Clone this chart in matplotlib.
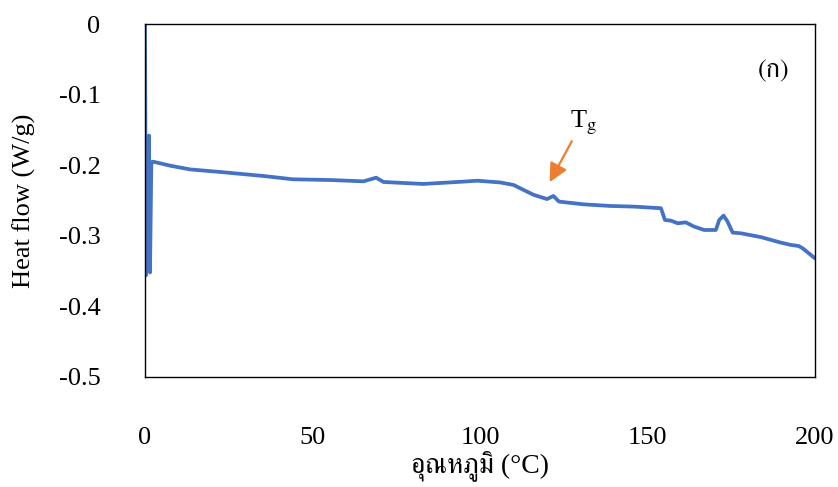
import numpy as np
import matplotlib
matplotlib.use("Agg")
import matplotlib.pyplot as plt
from matplotlib import font_manager, ft2font

# ----------------------------
# DSC trace (temperature in °C, heat flow in W/g)
# ----------------------------
temp = [0.0, 0.3, 0.8, 1.2, 1.5, 1.9, 2.4, 7.5, 13.5, 22.4, 35.3, 44.2, 55.3,
        65.2, 69.0, 71.2, 83.1, 95.0, 99.2, 106.1, 110.0, 116.0, 120.0, 121.9,
        123.6, 131.0, 139.0, 146.0, 154.0, 155.2, 157.0, 159.0, 161.4, 163.9,
        166.9, 170.4, 171.4, 172.7, 173.9, 175.4, 177.9, 183.9, 189.8, 192.8,
        195.1, 196.3, 200.0]
heat_flow = [0.0, -0.356, -0.20, -0.158, -0.352, -0.196, -0.195, -0.2007,
             -0.206, -0.2096, -0.2153, -0.220, -0.221, -0.2229, -0.2177,
             -0.2238, -0.2266, -0.2233, -0.222, -0.2245, -0.228, -0.242,
             -0.248, -0.2436, -0.2516, -0.2555, -0.2578, -0.2587, -0.261,
             -0.2776, -0.2786, -0.2823, -0.281, -0.287, -0.2918, -0.2918,
             -0.2776, -0.2715, -0.280, -0.2955, -0.2965, -0.302, -0.3097,
             -0.313, -0.3145, -0.3177, -0.332]

x_ticks = [0, 50, 100, 150, 200]
y_ticks = [0, -0.1, -0.2, -0.3, -0.4, -0.5]
y_tick_labels = ["0", "-0.1", "-0.2", "-0.3", "-0.4", "-0.5"]

tg_tail = (127.4, -0.166)
tg_tip = (120.8, -0.224)


def thai_family():
    # pick an installed font that has Thai glyphs, serif first
    found = []
    for f in font_manager.fontManager.ttflist:
        try:
            cmap = ft2font.FT2Font(f.fname).get_charmap()
        except Exception:
            continue
        if 0x0E01 in cmap:
            found.append(f.name)
    if not found:
        return None
    found.sort(key=lambda n: (0 if "Serif" in n else 1, n))
    return found[0]


thai = thai_family()
serif = ["Liberation Serif"] + ([thai] if thai else []) + ["DejaVu Sans"]
sans_thai = ([thai] if thai else []) + ["DejaVu Sans"]

plt.rcParams.update({
    "font.family": serif,
    "font.size": 19,
    "mathtext.fontset": "stix",
    "axes.linewidth": 1.0,
})

fig = plt.figure(figsize=(8.38, 4.87), dpi=100)
ax = fig.add_axes([0.173, 0.226, 0.7996, 0.7247])

ax.plot(temp, heat_flow, color="#4472C4", linewidth=2.7,
        solid_joinstyle="round", solid_capstyle="round")

ax.set_xlim(0, 200)
ax.set_ylim(-0.5, 0)
ax.set_xticks(x_ticks)
ax.set_yticks(y_ticks, y_tick_labels)
ax.tick_params(axis="x", length=0, pad=36)
ax.tick_params(axis="y", length=0, pad=32)

ax.set_xlabel("อุณหภูมิ (°C)", fontsize=20, labelpad=1)
ax.set_ylabel("Heat flow (W/g)", fontsize=19, labelpad=16)

ax.annotate("", xy=tg_tip, xytext=tg_tail,
            arrowprops=dict(arrowstyle="-|>", color="#ED7D31", lw=1.6,
                            mutation_scale=28, shrinkA=0, shrinkB=0))
ax.text(127.0, -0.140, r"T$_\mathrm{g}$", fontsize=19, ha="left", va="center")

ax.text(0.962, 0.866, "(ก)", transform=ax.transAxes, fontsize=19,
        ha="right", va="center", family=sans_thai)

fig.savefig("out.png", dpi=100)
